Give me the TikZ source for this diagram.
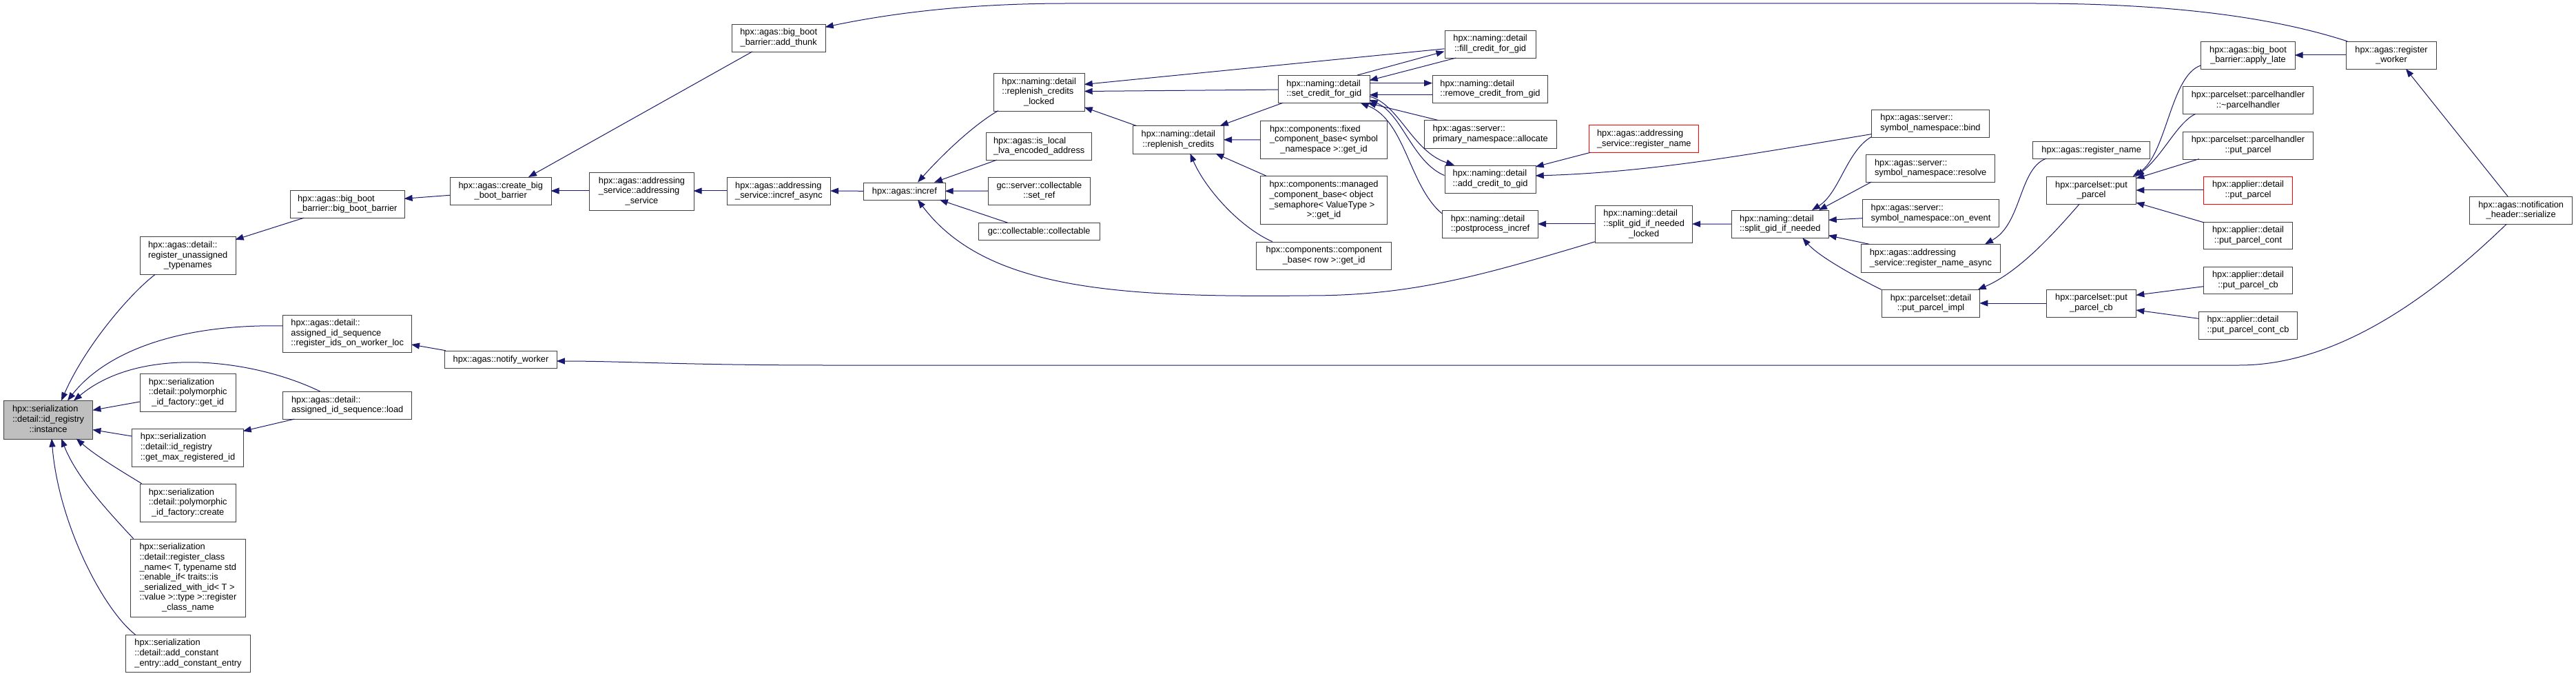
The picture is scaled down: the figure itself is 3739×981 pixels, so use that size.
\documentclass[tikz,border=0pt]{standalone}
\usepackage{fontspec}
\setmainfont{Liberation Sans}
\usetikzlibrary{arrows.meta,calc}
\definecolor{edgeblue}{HTML}{191970}
\definecolor{boxline}{HTML}{404040}
\newcommand{\LL}[2]{\begin{tabular}{@{}l@{}}#1\\\multicolumn{1}{@{}c@{}}{#2}\end{tabular}}
\begin{document}
\begin{tikzpicture}[x=1pt,y=-1pt,
  nbox/.style={draw=boxline, line width=1pt, fill=white, inner sep=1pt, anchor=north west,
    font=\fontsize{12.8}{14.6}\selectfont},
  sz/.style 2 args={minimum width=#1pt, minimum height=#2pt},
  redbox/.style={draw=red},
  cg/.style={draw=edgeblue, line width=1pt, -{Triangle[length=12pt,width=9pt]}},
]
\useasboundingbox[fill=white] (0,0) rectangle (3739,981);

% ---------------- nodes ----------------
\node[nbox,fill=black!25,sz={129.7}{55.2}] (instance) at (4.7,581.4) {\LL{hpx::serialization\\::detail::id\_registry}{::instance}};
\node[nbox,sz={138.8}{55.2}] (regUnassigned) at (202.8,343) {\LL{hpx::agas::detail::\\register\_unassigned}{\_typenames}};
\node[nbox,sz={165.6}{40.3}] (bbb) at (421,275.9) {\LL{hpx::agas::big\_boot}{\_barrier::big\_boot\_barrier}};
\node[nbox,sz={186.6}{54.8}] (regIds) at (410.4,456.5) {\LL{hpx::agas::detail::\\assigned\_id\_sequence}{::register\_ids\_on\_worker\_loc}};
\node[nbox,sz={138.8}{55}] (polyGetId) at (202.8,542) {\LL{hpx::serialization\\::detail::polymorphic}{\_id\_factory::get\_id}};
\node[nbox,sz={186.6}{40.2}] (load) at (410.4,568) {\LL{hpx::agas::detail::}{assigned\_id\_sequence::load}};
\node[nbox,sz={161.3}{54.7}] (getMax) at (191.4,621.8) {\LL{hpx::serialization\\::detail::id\_registry}{::get\_max\_registered\_id}};
\node[nbox,sz={138.8}{55.2}] (polyCreate) at (202.8,701.7) {\LL{hpx::serialization\\::detail::polymorphic}{\_id\_factory::create}};
\node[nbox,sz={166.9}{113.3}] (regClass) at (189,781.7) {\LL{hpx::serialization\\::detail::register\_class\\\_name< T, typename std\\::enable\_if< traits::is\\\_serialized\_with\_id< T >\\::value >::type >::register}{\_class\_name}};
\node[nbox,sz={180.3}{54.3}] (addConst) at (182.3,921) {\LL{hpx::serialization\\::detail::add\_constant}{\_entry::add\_constant\_entry}};
\node[nbox,sz={146.5}{40.3}] (createBbb) at (653,257) {\LL{hpx::agas::create\_big}{\_boot\_barrier}};
\node[nbox,sz={151.2}{55}] (addrService) at (855.4,249.7) {\LL{hpx::agas::addressing\\\_service::addressing}{\_service}};
\node[nbox,sz={150.5}{40.3}] (increfAsync) at (1054.7,256.8) {\LL{hpx::agas::addressing}{\_service::incref\_async}};
\node[nbox,sz={162.6}{25.3}] (notifyWorker) at (645.2,508.7) {hpx::agas::notify\_worker};
\node[nbox,sz={136}{40.3}] (addThunk) at (1061.7,34.6) {\LL{hpx::agas::big\_boot}{\_barrier::add\_thunk}};
\node[nbox,sz={118.7}{25.4}] (incref) at (1253,264.6) {hpx::agas::incref};
\node[nbox,sz={132}{55}] (replLocked) at (1441.7,105.7) {\LL{hpx::naming::detail\\::replenish\_credits}{\_locked}};
\node[nbox,sz={153.4}{40.3}] (isLocal) at (1431,191.8) {\LL{hpx::agas::is\_local}{\_lva\_encoded\_address}};
\node[nbox,sz={148.2}{40.3}] (setRef) at (1433.8,256.8) {\LL{gc::server::collectable}{::set\_ref}};
\node[nbox,sz={176.4}{25}] (collectable) at (1419.5,323.2) {gc::collectable::collectable};
\node[nbox,sz={132.3}{40.3}] (repl) at (1643.7,182.5) {\LL{hpx::naming::detail}{::replenish\_credits}};
\node[nbox,sz={183.5}{55.1}] (fixedComp) at (1829.3,174.9) {\LL{hpx::components::fixed\\\_component\_base< symbol}{\_namespace >::get\_id}};
\node[nbox,sz={183.5}{70}] (managedComp) at (1829.3,255.3) {\LL{hpx::components::managed\\\_component\_base< object\\\_semaphore< ValueType >}{>::get\_id}};
\node[nbox,sz={195.6}{40.1}] (compBase) at (1823.3,350.6) {\LL{hpx::components::component}{\_base< row >::get\_id}};
\node[nbox,sz={132.6}{40.3}] (setCredit) at (1855,109) {\LL{hpx::naming::detail}{::set\_credit\_for\_gid}};
\node[nbox,sz={132.2}{40.3}] (fillCredit) at (2096.5,43.7) {\LL{hpx::naming::detail}{::fill\_credit\_for\_gid}};
\node[nbox,sz={167}{40.3}] (removeCredit) at (2079,109) {\LL{hpx::naming::detail}{::remove\_credit\_from\_gid}};
\node[nbox,sz={192.1}{40.2}] (allocate) at (2066.6,174.5) {\LL{hpx::agas::server::}{primary\_namespace::allocate}};
\node[nbox,sz={132.2}{40.4}] (addCredit) at (2096.5,239.6) {\LL{hpx::naming::detail}{::add\_credit\_to\_gid}};
\node[nbox,sz={139}{40.4}] (postprocess) at (2093,304.9) {\LL{hpx::naming::detail}{::postprocess\_incref}};
\node[nbox,redbox,sz={159}{40}] (regNameRed) at (2306.3,181.3) {\LL{hpx::agas::addressing}{\_service::register\_name}};
\node[nbox,sz={140.7}{54.6}] (splitLocked) at (2315.3,297.7) {\LL{hpx::naming::detail\\::split\_gid\_if\_needed}{\_locked}};
\node[nbox,sz={140.7}{40.3}] (split) at (2513,305) {\LL{hpx::naming::detail}{::split\_gid\_if\_needed}};
\node[nbox,sz={171}{39.7}] (bind) at (2716,159) {\LL{hpx::agas::server::}{symbol\_namespace::bind}};
\node[nbox,sz={186.7}{40}] (resolve) at (2708.3,224) {\LL{hpx::agas::server::}{symbol\_namespace::resolve}};
\node[nbox,sz={197.4}{40}] (onEvent) at (2703.3,289.3) {\LL{hpx::agas::server::}{symbol\_namespace::on\_event}};
\node[nbox,sz={201.7}{40.4}] (regNameAsync) at (2701,354.3) {\LL{hpx::agas::addressing}{\_service::register\_name\_async}};
\node[nbox,sz={142.6}{39.7}] (putImpl) at (2730.7,420.3) {\LL{hpx::parcelset::detail}{::put\_parcel\_impl}};
\node[nbox,sz={169.7}{25.3}] (agasRegName) at (2950.3,204.7) {hpx::agas::register\_name};
\node[nbox,sz={130.6}{40}] (putParcel) at (2969.7,256) {\LL{hpx::parcelset::put}{\_parcel}};
\node[nbox,sz={130.6}{40.3}] (putCb) at (2969.7,419.7) {\LL{hpx::parcelset::put}{\_parcel\_cb}};
\node[nbox,sz={136.4}{40}] (applyLate) at (3194.3,60) {\LL{hpx::agas::big\_boot}{\_barrier::apply\_late}};
\node[nbox,sz={189.6}{40}] (phDtor) at (3167.7,125.3) {\LL{hpx::parcelset::parcelhandler}{::\textasciitilde parcelhandler}};
\node[nbox,sz={189.6}{40}] (phPut) at (3167.7,190.7) {\LL{hpx::parcelset::parcelhandler}{::put\_parcel}};
\node[nbox,redbox,sz={128.4}{40.3}] (apPut) at (3198.3,255.7) {\LL{hpx::applier::detail}{::put\_parcel}};
\node[nbox,sz={128.4}{39.5}] (apCont) at (3198.3,321.7) {\LL{hpx::applier::detail}{::put\_parcel\_cont}};
\node[nbox,sz={128.4}{39.6}] (apCb) at (3198.3,386.7) {\LL{hpx::applier::detail}{::put\_parcel\_cb}};
\node[nbox,sz={143}{39.7}] (apContCb) at (3191,452) {\LL{hpx::applier::detail}{::put\_parcel\_cont\_cb}};
\node[nbox,sz={131}{40}] (regWorker) at (3405,60) {\LL{hpx::agas::register}{\_worker}};
\node[nbox,sz={149.3}{40.3}] (notif) at (3584,285) {\LL{hpx::agas::notification}{\_header::serialize}};

% ---------------- edges (caller -> callee) ----------------
\draw[cg] ($(regUnassigned.north west)+(22.6,55.2)$) .. controls (190,425) and (125,500) .. ($(instance.north west)+(84.3,0)$);
\draw[cg] ($(regIds.north west)+(0,16.4)$) .. controls (250,470) and (150,515) .. ($(instance.north west)+(93.3,0)$);
\draw[cg] ($(load.north west)+(54.2,0)$) .. controls (370,522) and (205,500) .. ($(instance.north west)+(102.3,0)$);
\draw[cg] ($(polyGetId.north west)+(0,41)$) -- ($(instance.north west)+(129.7,13.9)$);
\draw[cg] ($(getMax.north west)+(0,11.2)$) -- ($(instance.north west)+(129.7,42.2)$);
\draw[cg] ($(polyCreate.north west)+(2.8,0)$) .. controls (175,683) and (140,662) .. ($(instance.north west)+(106,55.2)$);
\draw[cg] ($(regClass.north west)+(4.7,0)$) .. controls (150,735) and (110,690) .. ($(instance.north west)+(84.3,55.2)$);
\draw[cg] ($(addConst.north west)+(14.2,0)$) .. controls (150,885) and (85,760) .. ($(instance.north west)+(70.3,55.2)$);
\draw[cg] ($(bbb.north west)+(20,40.3)$) -- ($(regUnassigned.north west)+(138.8,4.8)$);
\draw[cg] ($(load.north west)+(16.6,40.2)$) -- ($(getMax.north west)+(161.3,3.9)$);
\draw[cg] ($(notifyWorker.north west)+(1.5,0)$) -- ($(regIds.north west)+(186.6,43.5)$);
\draw[cg] ($(createBbb.north west)+(0,26.3)$) -- ($(bbb.north west)+(165.6,12.4)$);
\draw[cg] ($(addrService.north west)+(0,27.3)$) -- ($(createBbb.north west)+(146.5,20)$);
\draw[cg] ($(addThunk.north west)+(30.3,40.3)$) -- ($(createBbb.north west)+(114,0)$);
\draw[cg] ($(increfAsync.north west)+(0,20.2)$) -- ($(addrService.north west)+(151.2,27.3)$);
\draw[cg] ($(incref.north west)+(0,12.7)$) -- ($(increfAsync.north west)+(150.5,20.2)$);
\draw[cg] ($(replLocked.north west)+(7.1,55)$) .. controls (1415,180) and (1370,222) .. ($(incref.north west)+(79,0)$);
\draw[cg] ($(isLocal.north west)+(15.8,40.3)$) -- ($(incref.north west)+(103,0)$);
\draw[cg] ($(setRef.north west)+(0,20.2)$) -- ($(incref.north west)+(118.7,12.7)$);
\draw[cg] ($(collectable.north west)+(43,0)$) -- ($(incref.north west)+(110.8,25.4)$);
\draw[cg] ($(splitLocked.north west)+(0,53)$) .. controls (2150,400) and (2050,429) .. (1900,429) .. controls (1620,432) and (1430,420) .. ($(incref.north west)+(79,25.4)$);
\draw[cg] ($(fillCredit.north west)+(0,27.1)$) -- ($(replLocked.north west)+(132,16.8)$);
\draw[cg] ($(setCredit.north west)+(0,21.1)$) -- ($(replLocked.north west)+(132,26.8)$);
\draw[cg] ($(repl.north west)+(5.7,0)$) -- ($(replLocked.north west)+(132,50)$);
\draw[cg] ($(setCredit.north west)+(6.9,40.3)$) -- ($(repl.north west)+(127.1,0)$);
\draw[cg] ($(fixedComp.north west)+(0,27.9)$) -- ($(repl.north west)+(132.3,20.3)$);
\draw[cg] ($(managedComp.north west)+(8.7,0)$) -- ($(repl.north west)+(120.6,40.3)$);
\draw[cg] ($(compBase.north west)+(23.4,0)$) .. controls (1800,330) and (1750,275) .. ($(repl.north west)+(83.7,40.3)$);
\draw[cg] ($(setCredit.north west)+(115.3,0)$) -- ($(fillCredit.north west)+(0,30.9)$);
\draw[cg] ($(fillCredit.north west)+(16.9,40.3)$) -- ($(setCredit.north west)+(132.6,7.7)$);
\draw[cg] ($(setCredit.north west)+(132.6,11.6)$) -- ($(removeCredit.north west)+(0,11.6)$);
\draw[cg] ($(removeCredit.north west)+(0,28.8)$) -- ($(setCredit.north west)+(132.6,28.8)$);
\draw[cg] ($(allocate.north west)+(20.8,0)$) -- ($(setCredit.north west)+(130,40.3)$);
\draw[cg] ($(setCredit.north west)+(132.6,31)$) .. controls (2030,150) and (2050,220) .. ($(addCredit.north west)+(14.5,0)$);
\draw[cg] ($(addCredit.north west)+(0,15)$) .. controls (2050,235) and (2035,165) .. ($(setCredit.north west)+(132.6,36)$);
\draw[cg] ($(postprocess.north west)+(0,5)$) .. controls (2045,270) and (2040,175) .. ($(setCredit.north west)+(119.6,40.3)$);
\draw[cg] ($(regNameRed.north west)+(2,40)$) -- ($(addCredit.north west)+(132.2,2.4)$);
\draw[cg] ($(bind.north west)+(0,35.7)$) .. controls (2550,222) and (2400,250) .. ($(addCredit.north west)+(132.2,15.4)$);
\draw[cg] ($(splitLocked.north west)+(0,27.3)$) -- ($(postprocess.north west)+(139,20.1)$);
\draw[cg] ($(split.north west)+(0,20.15)$) -- ($(splitLocked.north west)+(140.7,27.3)$);
\draw[cg] ($(bind.north west)+(0,39.7)$) .. controls (2680,220) and (2670,280) .. ($(split.north west)+(117,0)$);
\draw[cg] ($(resolve.north west)+(8,40)$) -- ($(split.north west)+(127,0)$);
\draw[cg] ($(onEvent.north west)+(0,27.4)$) -- ($(split.north west)+(140.7,14.3)$);
\draw[cg] ($(regNameAsync.north west)+(12,0)$) -- ($(split.north west)+(140.7,36.7)$);
\draw[cg] ($(putImpl.north west)+(0,0)$) .. controls (2690,400) and (2640,372) .. ($(split.north west)+(103.3,40.3)$);
\draw[cg] ($(agasRegName.north west)+(19.7,25.3)$) .. controls (2930,245) and (2935,325) .. ($(regNameAsync.north west)+(180,0)$);
\draw[cg] ($(putParcel.north west)+(48.6,40)$) .. controls (2980,340) and (2930,395) .. ($(putImpl.north west)+(140,0)$);
\draw[cg] ($(putCb.north west)+(0,20.3)$) -- ($(putImpl.north west)+(142.6,19.7)$);
\draw[cg] ($(applyLate.north west)+(0,35)$) .. controls (3150,110) and (3145,225) .. ($(putParcel.north west)+(126,0)$);
\draw[cg] ($(phDtor.north west)+(19,40)$) .. controls (3160,178) and (3140,225) .. ($(putParcel.north west)+(130.6,0)$);
\draw[cg] ($(phPut.north west)+(24,40)$) -- ($(putParcel.north west)+(130.6,3)$);
\draw[cg] ($(apPut.north west)+(0,20.3)$) -- ($(putParcel.north west)+(130.6,20)$);
\draw[cg] ($(apCont.north west)+(0,1)$) -- ($(putParcel.north west)+(130.6,38)$);
\draw[cg] ($(apCb.north west)+(0,29)$) -- ($(putCb.north west)+(130.6,8.6)$);
\draw[cg] ($(apContCb.north west)+(0,10.3)$) -- ($(putCb.north west)+(130.6,30.3)$);
\draw[cg] ($(regWorker.north west)+(0,20)$) -- ($(applyLate.north west)+(136.4,20)$);
\draw[cg] ($(regWorker.north west)+(2.3,0)$) .. controls (3300,25) and (3150,5) .. (2950,5) -- (1550,5) .. controls (1400,5) and (1290,20) .. ($(addThunk.north west)+(136,4.7)$);
\draw[cg] ($(notif.north west)+(56,0)$) -- ($(regWorker.north west)+(87,40)$);
\draw[cg] ($(notif.north west)+(54,40.3)$) .. controls (3540,420) and (3400,530) .. (3250,530) -- (1200,530) .. controls (1000,530) and (900,524) .. ($(notifyWorker.north west)+(162.6,15.3)$);
\end{tikzpicture}
\end{document}
